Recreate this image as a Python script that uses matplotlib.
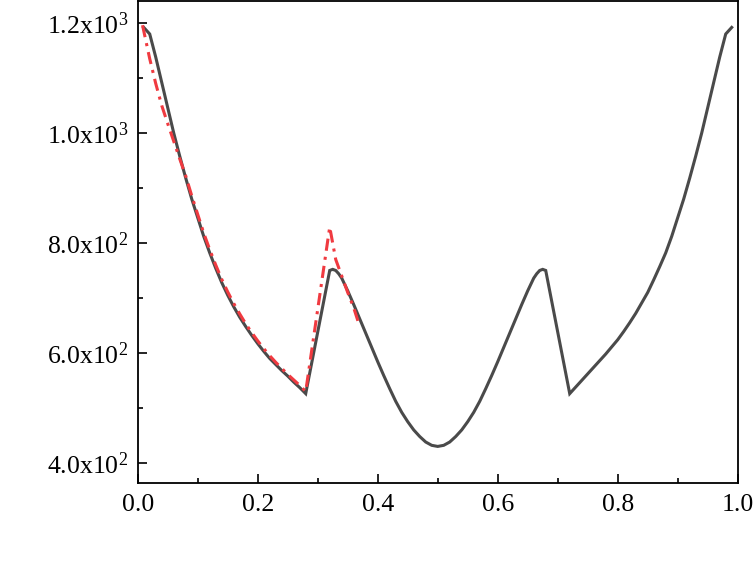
import matplotlib
matplotlib.use("Agg")
import matplotlib.pyplot as plt
from matplotlib.ticker import FixedLocator, MultipleLocator, FuncFormatter

plt.rcParams['font.family'] = ['Liberation Serif', 'DejaVu Serif']
plt.rcParams['mathtext.fontset'] = 'custom'
plt.rcParams['mathtext.rm'] = 'Liberation Serif'
plt.rcParams['mathtext.it'] = 'Liberation Serif:italic'

black_x = [0.01, 0.02, 0.03, 0.04, 0.05, 0.06, 0.07, 0.08, 0.09, 0.10, 0.11, 0.12, 0.13,
           0.14, 0.15, 0.16, 0.17, 0.18, 0.19, 0.20, 0.21, 0.22, 0.23, 0.24, 0.25, 0.26,
           0.27, 0.28, 0.32, 0.325, 0.33, 0.335, 0.34, 0.35, 0.36, 0.37, 0.38, 0.39, 0.40,
           0.41, 0.42, 0.43, 0.44, 0.45, 0.46, 0.47, 0.48, 0.49, 0.50, 0.51, 0.52, 0.53,
           0.54, 0.55, 0.56, 0.57, 0.58, 0.59, 0.60, 0.61, 0.62, 0.63, 0.64, 0.65, 0.66,
           0.665, 0.67, 0.675, 0.68, 0.72, 0.73, 0.74, 0.75, 0.76, 0.77, 0.78, 0.79, 0.80,
           0.81, 0.82, 0.83, 0.84, 0.85, 0.86, 0.87, 0.88, 0.89, 0.90, 0.91, 0.92, 0.93,
           0.94, 0.95, 0.96, 0.97, 0.98, 0.99]
black_y = [1192, 1180, 1138, 1092, 1046, 1000, 958, 918, 880, 846, 812, 782, 754,
           728, 705, 684, 665, 648, 632, 617, 603, 590, 579, 568, 558, 547,
           537, 526, 750, 752, 750, 744, 736, 713, 688, 662, 636, 610, 584,
           559, 535, 512, 492, 475, 460, 448, 438, 432, 430, 432, 438, 448,
           460, 475, 492, 512, 535, 559, 584, 610, 636, 662, 688, 713, 736,
           744, 750, 752, 750, 526, 538, 550, 562, 574, 586, 598, 611, 624,
           639, 655, 672, 691, 710, 733, 757, 782, 812, 846, 880, 918, 958,
           1000, 1046, 1092, 1138, 1180, 1192]

red_x = [0.008, 0.02, 0.03, 0.04, 0.05, 0.06, 0.07, 0.08, 0.09, 0.10, 0.11, 0.12, 0.13,
         0.14, 0.15, 0.16, 0.17, 0.18, 0.19, 0.20, 0.21, 0.22, 0.23, 0.24, 0.25, 0.26,
         0.27, 0.28, 0.32, 0.33, 0.34, 0.35, 0.36, 0.37]
red_y = [1196, 1135, 1090, 1050, 1017, 985, 953, 922, 886, 852, 818, 788, 760,
         734, 711, 690, 671, 653, 637, 622, 608, 595, 583, 572, 561, 551,
         541, 530, 829, 770, 740, 710, 682, 648]

y_ticks = [400, 600, 800, 1000, 1200]
y_labels = ['4.0x10$^{2}$', '6.0x10$^{2}$', '8.0x10$^{2}$', '1.0x10$^{3}$', '1.2x10$^{3}$']
x_ticks = [0.0, 0.2, 0.4, 0.6, 0.8, 1.0]

fig = plt.figure(figsize=(7.53, 5.63), dpi=100)
ax = fig.add_axes([0.1829, 0.1426, 0.7968, 0.8556])

ax.plot(black_x, black_y, color='#4a4a4a', lw=2.2, solid_joinstyle='miter', zorder=2)
ax.plot(red_x, red_y, color='#f03a40', lw=2.2, linestyle=(0, (4, 2, 1, 2)), zorder=3)

ax.set_xlim(0, 1.0)
ax.set_ylim(364, 1240)

ax.xaxis.set_major_locator(FixedLocator(x_ticks))
ax.xaxis.set_minor_locator(MultipleLocator(0.1))
ax.xaxis.set_major_formatter(FuncFormatter(lambda v, p: f"{v:.1f}"))
ax.yaxis.set_major_locator(FixedLocator(y_ticks))
ax.yaxis.set_minor_locator(MultipleLocator(100))
ax.set_yticklabels(y_labels)

ax.tick_params(which='both', direction='in', top=False, right=False, labelsize=18.5, width=1.2)
ax.tick_params(which='major', length=6.5)
ax.tick_params(which='minor', length=3.3)
ax.tick_params(axis='x', pad=8)
ax.tick_params(axis='y', pad=7)
for s in ax.spines.values():
    s.set_linewidth(1.3)

fig.savefig('out.png', dpi=100)
